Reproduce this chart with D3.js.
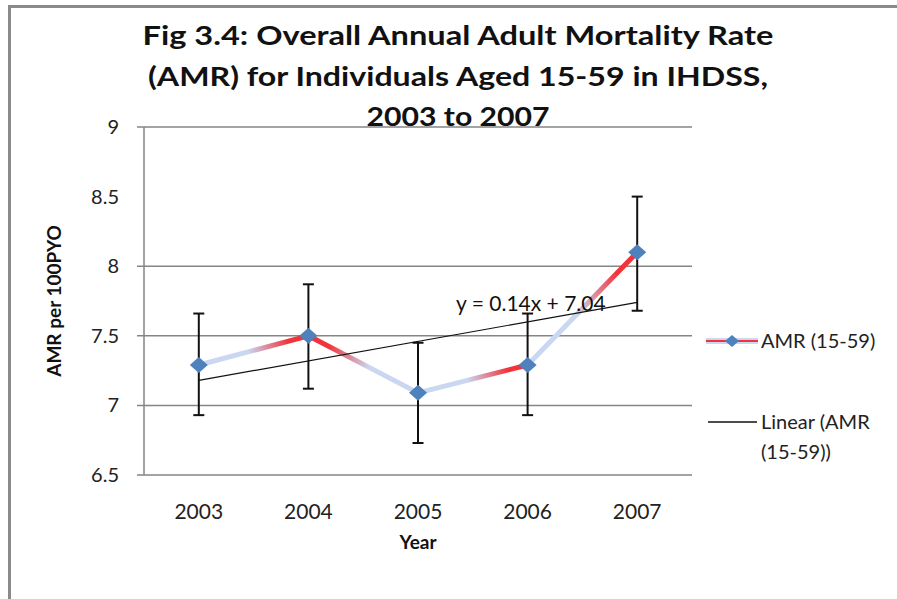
<!DOCTYPE html>
<html>
<head>
<meta charset="utf-8">
<style> body { margin: 0; background: #fff; } text { font-family: Lato, "Open Sans", sans-serif; } </style>
<script src="https://d3js.org/d3.v7.min.js"></script>
</head>
<body>
<div id="chart"></div>
<script>

var years = ["2003", "2004", "2005", "2006", "2007"];
var amr = [7.29, 7.50, 7.09, 7.29, 8.10];
var errHi = [7.66, 7.87, 7.45, 7.66, 8.50];
var errLo = [6.93, 7.12, 6.73, 6.93, 7.68];
var trendEnds = [7.18, 7.74];
var yTicks = [6.5, 7, 7.5, 8, 8.5, 9];
var gridTicks = [6.5, 7, 7.5, 8, 9];   // the 8.5 gridline is not visible in the source
var titleLines = ["Fig 3.4: Overall Annual  Adult Mortality Rate", "(AMR) for Individuals Aged 15-59 in IHDSS,", "2003 to 2007"];
var titleWidths = [631, 620, 183];

var W = 897, H = 599;
var margin = {top: 127, bottom: 124, left: 144, right: 205};

var svg = d3.select("#chart").append("svg")
    .attr("width", W)
    .attr("height", H);

// frame
svg.append("path")
    .attr("d", "M9.5,599 L9.5,6.5 L897,6.5")
    .attr("fill", "none")
    .attr("stroke", "#8a8a8a")
    .attr("stroke-width", 3);

var x = d3.scaleBand()
    .domain(years)
    .range([margin.left, W - margin.right]);

var y = d3.scaleLinear()
    .domain([6.5, 9])
    .range([H - margin.bottom, margin.top]);

var cx = function(i) { return x(years[i]) + x.bandwidth() / 2; };

// title
svg.append("g").selectAll("text")
    .data(titleLines)
    .join("text")
    .attr("x", 458)
    .attr("y", (d, i) => 45 + i * 40.5)
    .attr("text-anchor", "middle")
    .attr("font-size", 26)
    .attr("font-weight", "bold")
    .attr("fill", "#111")
    .attr("textLength", (d, i) => titleWidths[i])
    .attr("lengthAdjust", "spacingAndGlyphs")
    .text(d => d);

// gridlines
svg.append("g").selectAll("line")
    .data(gridTicks)
    .join("line")
    .attr("x1", margin.left - 7)
    .attr("x2", W - margin.right)
    .attr("y1", d => y(d))
    .attr("y2", d => y(d))
    .attr("stroke", "#858585")
    .attr("stroke-width", 1.5);

svg.append("line")
    .attr("x1", margin.left).attr("x2", margin.left)
    .attr("y1", y(9)).attr("y2", y(6.5))
    .attr("stroke", "#858585")
    .attr("stroke-width", 1.5);

// y tick labels
svg.append("g").selectAll("text")
    .data(yTicks)
    .join("text")
    .attr("x", 119)
    .attr("y", d => y(d))
    .attr("dy", "0.35em")
    .attr("text-anchor", "end")
    .attr("font-size", 20)
    .attr("fill", "#222")
    .text(d => d);

// x tick labels
svg.append("g").selectAll("text")
    .data(years)
    .join("text")
    .attr("x", d => x(d) + x.bandwidth() / 2)
    .attr("y", 519)
    .attr("text-anchor", "middle")
    .attr("font-size", 21)
    .attr("fill", "#222")
    .text(d => d);

svg.append("text")
    .attr("x", (margin.left + W - margin.right) / 2)
    .attr("y", 549)
    .attr("text-anchor", "middle")
    .attr("font-size", 19)
    .attr("font-weight", "bold")
    .attr("fill", "#111")
    .text("Year");

svg.append("text")
    .attr("transform", "translate(61," + (y(6.5) + y(9)) / 2 + ") rotate(-90)")
    .attr("text-anchor", "middle")
    .attr("font-size", 19)
    .attr("font-weight", "bold")
    .attr("fill", "#111")
    .text("AMR per 100PYO");

// gradient line segments: lower end pale blue, higher end red
var defs = svg.append("defs");
var lines = svg.append("g");

for (var i = 0; i < years.length - 1; i++) {
    var lo = amr[i] < amr[i + 1] ? i : i + 1,
        hi = lo == i ? i + 1 : i;
    var g = defs.append("linearGradient")
        .attr("id", "seg" + i)
        .attr("gradientUnits", "userSpaceOnUse")
        .attr("x1", cx(lo)).attr("y1", y(amr[lo]))
        .attr("x2", cx(hi)).attr("y2", y(amr[hi]));
    g.append("stop").attr("offset", 0).attr("stop-color", "#c9d7f0");
    g.append("stop").attr("offset", 0.45).attr("stop-color", "#c9d7f0");
    g.append("stop").attr("offset", 0.82).attr("stop-color", "#f2333a");
    g.append("stop").attr("offset", 1).attr("stop-color", "#f2333a");

    lines.append("line")
        .attr("x1", cx(i)).attr("y1", y(amr[i]))
        .attr("x2", cx(i + 1)).attr("y2", y(amr[i + 1]))
        .attr("stroke", "url(#seg" + i + ")")
        .attr("stroke-width", 5)
        .attr("stroke-linecap", "round");
}

// trend line
svg.append("line")
    .attr("x1", cx(0)).attr("y1", y(trendEnds[0]))
    .attr("x2", cx(years.length - 1)).attr("y2", y(trendEnds[1]))
    .attr("stroke", "#111")
    .attr("stroke-width", 1.2);

svg.append("text")
    .attr("x", 456)
    .attr("y", 311)
    .attr("font-size", 21)
    .attr("fill", "#111")
    .text("y = 0.14x + 7.04");

// error bars
var err = svg.append("g").attr("stroke", "#111").attr("stroke-width", 2);
years.forEach(function(d, i) {
    err.append("line")
        .attr("x1", cx(i)).attr("x2", cx(i))
        .attr("y1", y(errHi[i])).attr("y2", y(errLo[i]));
    [errHi[i], errLo[i]].forEach(function(v) {
        err.append("line")
            .attr("x1", cx(i) - 5.5).attr("x2", cx(i) + 5.5)
            .attr("y1", y(v)).attr("y2", y(v));
    });
});

// markers
svg.append("g").selectAll("path")
    .data(amr)
    .join("path")
    .attr("transform", (d, i) => "translate(" + cx(i) + "," + y(d) + ")")
    .attr("d", "M0,-8 L9,0 L0,8 L-9,0 Z")
    .attr("fill", "#4f81bd");

// legend
var leg = svg.append("g");
leg.append("line")
    .attr("x1", 706).attr("x2", 758).attr("y1", 341).attr("y2", 341)
    .attr("stroke", "#c9d7f0").attr("stroke-width", 6);
leg.append("line")
    .attr("x1", 706).attr("x2", 758).attr("y1", 341).attr("y2", 341)
    .attr("stroke", "#f2333a").attr("stroke-width", 2);
leg.append("path")
    .attr("transform", "translate(732,341)")
    .attr("d", "M0,-6 L7,0 L0,6 L-7,0 Z")
    .attr("fill", "#4f81bd");
leg.append("text")
    .attr("x", 761).attr("y", 341).attr("dy", "0.35em")
    .attr("font-size", 20).attr("fill", "#222")
    .text("AMR (15-59)");

leg.append("line")
    .attr("x1", 708).attr("x2", 757).attr("y1", 422).attr("y2", 422)
    .attr("stroke", "#111").attr("stroke-width", 1.5);
leg.append("text")
    .attr("x", 761).attr("y", 422).attr("dy", "0.35em")
    .attr("font-size", 20).attr("fill", "#222")
    .text("Linear (AMR");
leg.append("text")
    .attr("x", 761).attr("y", 452).attr("dy", "0.35em")
    .attr("font-size", 20).attr("fill", "#222")
    .text("(15-59))");

</script>
</body>
</html>
